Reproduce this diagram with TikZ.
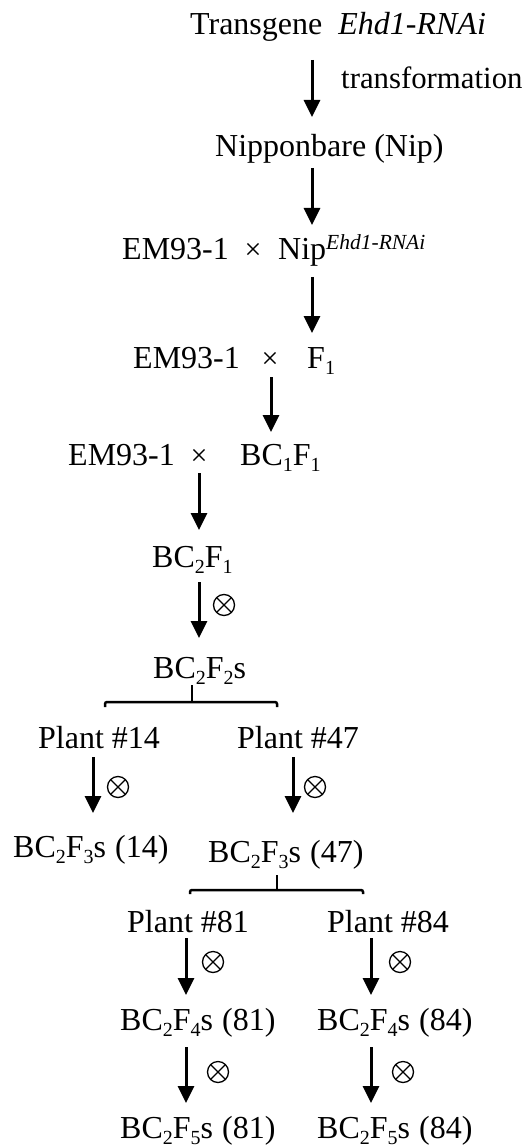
\documentclass[tikz,border=0pt]{standalone}
\usepackage{fontspec}
\setmainfont{Liberation Serif}
\usetikzlibrary{arrows.meta,calc}
% lowered subscript and raised italic superscript for generation / transgene labels
\newcommand\lowsub[1]{\raisebox{-6pt}{\fontsize{20}{20}\selectfont #1}}
\newcommand\gensup[1]{\raisebox{10pt}{\fontsize{21.5}{22}\selectfont\itshape #1}}
\newcommand\wsp{\hspace{9pt}}

\begin{document}
\begin{tikzpicture}[x=1pt,y=-1pt,
  lbl/.style={anchor=base west,inner sep=0pt,font=\fontsize{32}{38}\selectfont},
  sym/.style={anchor=base,inner sep=0pt,font=\fontsize{30}{36}\selectfont},
  % circled cross marking a selfing step
  selfing/.style={circle,draw,line width=1.3pt,inner sep=0pt,minimum size=21pt,
    path picture={\draw[line width=1.3pt]
      (path picture bounding box.north west) -- (path picture bounding box.south east)
      (path picture bounding box.north east) -- (path picture bounding box.south west);}},
  arr/.style={line width=3pt,-{Triangle[width=16pt,length=17pt]}},
  brk/.style={line width=2.5pt,rounded corners=2pt}]
\useasboundingbox (0,0) rectangle (527,1147);

% columns of the arrows and brackets
\coordinate (c312) at (312,0);
\coordinate (c271) at (271,0);
\coordinate (c199) at (199,0);
\coordinate (c93) at (93,0);
\coordinate (c293) at (293,0);
\coordinate (c186) at (186,0);
\coordinate (c371) at (371,0);
\coordinate (b1l) at (105,0);
\coordinate (b1m) at (192,0);
\coordinate (b1r) at (277,0);
\coordinate (b2l) at (190,0);
\coordinate (b2m) at (277,0);
\coordinate (b2r) at (363,0);

% labels
\node[lbl] (trans) at (190,35) {Transgene\ \ \textit{Ehd1-RNAi}};
\node[lbl,font=\fontsize{30.8}{37}\selectfont] (transf) at (341,89) {transformation};
\node[lbl] (nip) at (215,157) {Nipponbare (Nip)};

\node[lbl] (em1) at (122,260) {EM93-1};
\node[sym] (x1) at (253,260) {×};
\node[lbl] (nipr) at (278,260) {Nip\gensup{Ehd1-RNAi}};

\node[lbl] (em2) at (133,368) {EM93-1};
\node[sym] (x2) at (270,368) {×};
\node[lbl] (f1) at (307,368) {F\lowsub{1}};

\node[lbl] (em3) at (68,465) {EM93-1};
\node[sym] (x3) at (199,465) {×};
\node[lbl] (bc1f1) at (240,465) {BC\lowsub{1}F\lowsub{1}};

\node[lbl] (bc2f1) at (152,567) {BC\lowsub{2}F\lowsub{1}};
\node[lbl] (bc2f2) at (153,678) {BC\lowsub{2}F\lowsub{2}s};

\node[lbl] (p14) at (38,748) {Plant \#14};
\node[lbl] (p47) at (237,748) {Plant \#47};

\node[lbl] (f3a) at (13,857) {BC\lowsub{2}F\lowsub{3}s\wsp(14)};
\node[lbl] (f3b) at (208,862) {BC\lowsub{2}F\lowsub{3}s\wsp(47)};

\node[lbl] (p81) at (127,932) {Plant \#81};
\node[lbl] (p84) at (327,932) {Plant \#84};

\node[lbl] (f4a) at (120,1030) {BC\lowsub{2}F\lowsub{4}s\wsp(81)};
\node[lbl] (f4b) at (317,1030) {BC\lowsub{2}F\lowsub{4}s\wsp(84)};

\node[lbl] (f5a) at (120,1138) {BC\lowsub{2}F\lowsub{5}s\wsp(81)};
\node[lbl] (f5b) at (317,1138) {BC\lowsub{2}F\lowsub{5}s\wsp(84)};

% selfing marks
\node[selfing] (s1) at (224,605) {};
\node[selfing] (s2) at (118,787) {};
\node[selfing] (s3) at (315,787) {};
\node[selfing] (s4) at (213,962) {};
\node[selfing] (s5) at (400,962) {};
\node[selfing] (s6) at (218,1072) {};
\node[selfing] (s7) at (403,1072) {};

% arrows
\draw[arr] ($(trans.base -| c312)+(0,25)$) -- ($(nip.base -| c312)+(0,-40)$);
\draw[arr] ($(nip.base -| c312)+(0,11)$) -- ($(nipr.base -| c312)+(0,-35)$);
\draw[arr] ($(nipr.base -| c312)+(0,17)$) -- ($(f1.base -| c312)+(0,-35)$);
\draw[arr] ($(f1.base -| c271)+(0,9)$) -- ($(bc1f1.base -| c271)+(0,-33)$);
\draw[arr] ($(x3.base -| c199)+(0,8)$) -- ($(bc2f1.base -| c199)+(0,-37)$);
\draw[arr] ($(bc2f1.base -| c199)+(0,15)$) -- ($(bc2f2.base -| c199)+(0,-40)$);
\draw[arr] ($(p14.base -| c93)+(0,9)$) -- ($(f3a.base -| c93)+(0,-44)$);
\draw[arr] ($(p47.base -| c293)+(0,9)$) -- ($(f3b.base -| c293)+(0,-49)$);
\draw[arr] ($(p81.base -| c186)+(0,6)$) -- ($(f4a.base -| c186)+(0,-35)$);
\draw[arr] ($(p84.base -| c371)+(0,6)$) -- ($(f4b.base -| c371)+(0,-35)$);
\draw[arr] ($(f4a.base -| c186)+(0,17)$) -- ($(f5a.base -| c186)+(0,-35)$);
\draw[arr] ($(f4b.base -| c371)+(0,17)$) -- ($(f5b.base -| c371)+(0,-35)$);

% brackets splitting a population into single plants
\draw[brk] ($(bc2f2.base -| b1m)+(0,7)$) -- ($(bc2f2.base -| b1m)+(0,24)$);
\draw[brk] ($(bc2f2.base -| b1l)+(0,29)$) -- ($(bc2f2.base -| b1l)+(0,24)$)
  -- ($(bc2f2.base -| b1r)+(0,24)$) -- ($(bc2f2.base -| b1r)+(0,29)$);
\draw[brk] ($(f3b.base -| b2m)+(0,13)$) -- ($(f3b.base -| b2m)+(0,28)$);
\draw[brk] ($(f3b.base -| b2l)+(0,32)$) -- ($(f3b.base -| b2l)+(0,28)$)
  -- ($(f3b.base -| b2r)+(0,28)$) -- ($(f3b.base -| b2r)+(0,32)$);
\end{tikzpicture}
\end{document}
